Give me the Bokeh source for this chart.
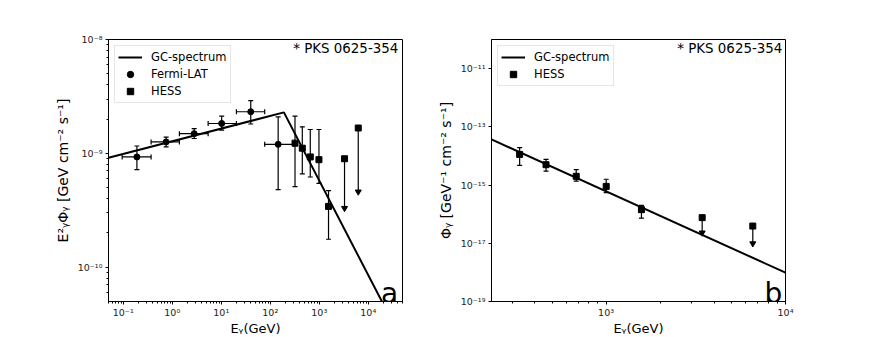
import numpy as np
from bokeh.plotting import figure
from bokeh.layouts import row
from bokeh.models import (FixedTicker, Legend, LegendItem, Label, ColumnDataSource, Range1d)
from bokeh.embed import file_html
from bokeh.resources import INLINE

FONT = "DejaVu Sans"

# ---------------- Panel a data (E^2 * flux) ----------------
fermi_E = [0.19, 0.75, 2.8, 10.2, 40, 145]
fermi_E_lo = [0.095, 0.37, 1.4, 5.4, 20.4, 77]
fermi_E_hi = [0.37, 1.4, 5.4, 20.4, 77, 297]
fermi_F = [9.3e-10, 1.26e-9, 1.49e-9, 1.83e-9, 2.32e-9, 1.20e-9]
fermi_F_lo = [7.2e-10, 1.14e-9, 1.35e-9, 1.60e-9, 1.81e-9, 4.8e-10]
fermi_F_hi = [1.16e-9, 1.39e-9, 1.65e-9, 2.12e-9, 2.90e-9, 2.09e-9]

hess_a_E = [320, 451, 656, 986, 1546]
hess_a_F = [1.23e-9, 1.11e-9, 9.3e-10, 8.8e-10, 3.42e-10]
hess_a_F_lo = [5.1e-10, 6.6e-10, 6.2e-10, 5.45e-10, 1.76e-10]
hess_a_F_hi = [2.12e-9, 1.71e-9, 1.62e-9, 1.62e-9, 4.7e-10]
hess_a_ul_E = [3281, 6252]
hess_a_ul_F = [8.97e-10, 1.67e-9]
hess_a_ul_end = [3.3e-10, 4.6e-10]

gc_a_E = [0.05, 190, 5e4]
gc_a_F = [9.16e-10, 2.29e-9, 2.24e-11]

# ---------------- Panel b data (flux) ----------------
hess_b_E = [330, 463, 682, 1002, 1575]
hess_b_F = [1.13e-14, 5.0e-15, 2.0e-15, 9.0e-16, 1.43e-16]
hess_b_F_lo = [4.75e-15, 3.0e-15, 1.37e-15, 5.5e-16, 7.3e-17]
hess_b_F_hi = [1.93e-14, 7.6e-15, 3.4e-15, 1.58e-15, 2.0e-16]
hess_b_ul_E = [3433, 6573]
hess_b_ul_F = [7.6e-17, 3.9e-17]
hess_b_ul_end = [2.3e-17, 9.8e-18]

gc_b_E = [230, 1e4]
gc_b_F = [3.7e-14, 9.8e-19]

# tick exponents
a_x_exp = [-1, 0, 1, 2, 3, 4]
a_y_exp = [-10, -9, -8]
b_x_exp = [3, 4]
b_y_exp = [-19, -17, -15, -13, -11]

SUP = str.maketrans("-0123456789", "⁻⁰¹²³⁴⁵⁶⁷⁸⁹")


def lab(e):
    return "10" + str(e).translate(SUP)


def minor(lo, hi):
    out = []
    for d in range(-25, 6):
        for k in range(2, 10):
            v = k * 10.0 ** d
            if lo <= v <= hi:
                out.append(v)
    return out


def make_fig(xr, yr, bl, br):
    p = figure(x_axis_type="log", y_axis_type="log",
               x_range=Range1d(*xr), y_range=Range1d(*yr),
               frame_width=294, frame_height=262,
               min_border_left=bl, min_border_right=br,
               min_border_top=39, min_border_bottom=20,
               output_backend="svg", toolbar_location=None)
    p.xgrid.visible = False
    p.ygrid.visible = False
    p.outline_line_color = "black"
    p.outline_line_width = 1
    p.outline_line_alpha = 1
    p.background_fill_color = "white"
    p.border_fill_color = "white"
    for ax in (p.xaxis[0], p.yaxis[0]):
        ax.axis_line_color = "black"
        ax.major_tick_line_color = "black"
        ax.minor_tick_line_color = "black"
        ax.major_tick_in = 0
        ax.major_tick_out = 3
        ax.minor_tick_in = 0
        ax.minor_tick_out = 2
        ax.major_label_text_font = FONT
        ax.major_label_text_font_size = "9.5px"
        ax.major_label_text_color = "#222222"
        ax.axis_label_text_font = FONT
        ax.axis_label_text_font_size = "14px"
        ax.axis_label_text_font_style = "normal"
        ax.axis_label_text_color = "black"
        ax.major_label_standoff = 3
        ax.axis_label_standoff = 4
    p.xaxis.axis_label_text_font_size = "13px"
    p.xaxis.major_label_standoff = 2
    p.xaxis.axis_label_standoff = 0
    return p


def errbars(p, E, F, lo, hi, marker):
    src = ColumnDataSource(dict(E=E, F=F, lo=lo, hi=hi))
    p.segment("E", "lo", "E", "hi", source=src, line_color="black", line_width=1.2)
    p.scatter("E", "lo", source=src, marker="dash", size=5, line_color="black", line_width=1.2)
    p.scatter("E", "hi", source=src, marker="dash", size=5, line_color="black", line_width=1.2)
    return p.scatter("E", "F", source=src, marker=marker, size=6,
                     fill_color="black", line_color="black")


def upper_limits(p, E, F, end):
    src = ColumnDataSource(dict(E=E, F=F, end=end))
    p.segment("E", "F", "E", "end", source=src, line_color="black", line_width=1.2)
    p.scatter("E", "end", source=src, marker="inverted_triangle", size=6,
              fill_color="black", line_color="black")
    p.scatter("E", "F", source=src, marker="square", size=6,
              fill_color="black", line_color="black")


def style_legend(leg):
    leg.location = "top_left"
    leg.margin = 6
    leg.padding = 3
    leg.spacing = 1
    leg.label_height = 16
    leg.glyph_height = 16
    leg.glyph_width = 24
    leg.label_standoff = 9
    leg.label_text_font = FONT
    leg.label_text_font_size = "11.5px"
    leg.label_text_color = "black"
    leg.border_line_color = "#cccccc"
    leg.border_line_width = 1
    leg.background_fill_alpha = 0.8


def add_text(p, x, y, text, size, baseline):
    p.add_layout(Label(x=x, y=y, text=text, text_align="right", text_baseline=baseline,
                       text_font=FONT, text_font_size=size, text_color="black"))


# ---------------- Panel a ----------------
pa = make_fig((0.05, 5e4), (5e-11, 1e-8), 108, 29)
pa.xaxis.ticker = FixedTicker(ticks=[10.0 ** e for e in a_x_exp], minor_ticks=minor(0.05, 5e4))
pa.yaxis.ticker = FixedTicker(ticks=[10.0 ** e for e in a_y_exp], minor_ticks=minor(5e-11, 1e-8))
pa.xaxis.major_label_overrides = {10.0 ** e: lab(e) for e in a_x_exp}
pa.yaxis.major_label_overrides = {10.0 ** e: lab(e) for e in a_y_exp}
pa.xaxis.axis_label = "Eᵧ(GeV)"
pa.yaxis.axis_label = "E²ᵧΦᵧ [GeV cm⁻² s⁻¹]"

r_gc_a = pa.line(gc_a_E, gc_a_F, line_color="black", line_width=2)

src_f = ColumnDataSource(dict(E=fermi_E, Elo=fermi_E_lo, Ehi=fermi_E_hi,
                              F=fermi_F, Flo=fermi_F_lo, Fhi=fermi_F_hi))
pa.segment("Elo", "F", "Ehi", "F", source=src_f, line_color="black", line_width=1.2)
pa.scatter("Elo", "F", source=src_f, marker="dash", angle=np.pi / 2, size=5,
           line_color="black", line_width=1.2)
pa.scatter("Ehi", "F", source=src_f, marker="dash", angle=np.pi / 2, size=5,
           line_color="black", line_width=1.2)
r_fermi = errbars(pa, fermi_E, fermi_F, fermi_F_lo, fermi_F_hi, "circle")
r_hess_a = errbars(pa, hess_a_E, hess_a_F, hess_a_F_lo, hess_a_F_hi, "square")
upper_limits(pa, hess_a_ul_E, hess_a_ul_F, hess_a_ul_end)

leg_a = Legend(items=[LegendItem(label="GC-spectrum", renderers=[r_gc_a]),
                      LegendItem(label="Fermi-LAT", renderers=[r_fermi]),
                      LegendItem(label="HESS", renderers=[r_hess_a])])
style_legend(leg_a)
pa.add_layout(leg_a)

add_text(pa, 4.1e4, 8.3e-9, "* PKS 0625-354", "13.4px", "middle")
add_text(pa, 4.1e4, 5.9e-11, "a", "28px", "alphabetic")

# ---------------- Panel b ----------------
pb = make_fig((230, 1e4), (1e-19, 1e-10), 60, 79)
pb.xaxis.ticker = FixedTicker(ticks=[10.0 ** e for e in b_x_exp], minor_ticks=minor(230, 1e4))
pb.yaxis.ticker = FixedTicker(ticks=[10.0 ** e for e in b_y_exp], minor_ticks=[])
pb.xaxis.major_label_overrides = {10.0 ** e: lab(e) for e in b_x_exp}
pb.yaxis.major_label_overrides = {10.0 ** e: lab(e) for e in b_y_exp}
pb.xaxis.axis_label = "Eᵧ(GeV)"
pb.yaxis.axis_label = "Φᵧ [GeV⁻¹ cm⁻² s⁻¹]"

r_gc_b = pb.line(gc_b_E, gc_b_F, line_color="black", line_width=2)
r_hess_b = errbars(pb, hess_b_E, hess_b_F, hess_b_F_lo, hess_b_F_hi, "square")
upper_limits(pb, hess_b_ul_E, hess_b_ul_F, hess_b_ul_end)

leg_b = Legend(items=[LegendItem(label="GC-spectrum", renderers=[r_gc_b]),
                      LegendItem(label="HESS", renderers=[r_hess_b])])
style_legend(leg_b)
pb.add_layout(leg_b)

add_text(pb, 9600, 4.8e-11, "* PKS 0625-354", "13.4px", "middle")
add_text(pb, 9600, 1.85e-19, "b", "28px", "alphabetic")

layout = row(pa, pb)
open("out.html", "w").write(file_html(layout, INLINE))
